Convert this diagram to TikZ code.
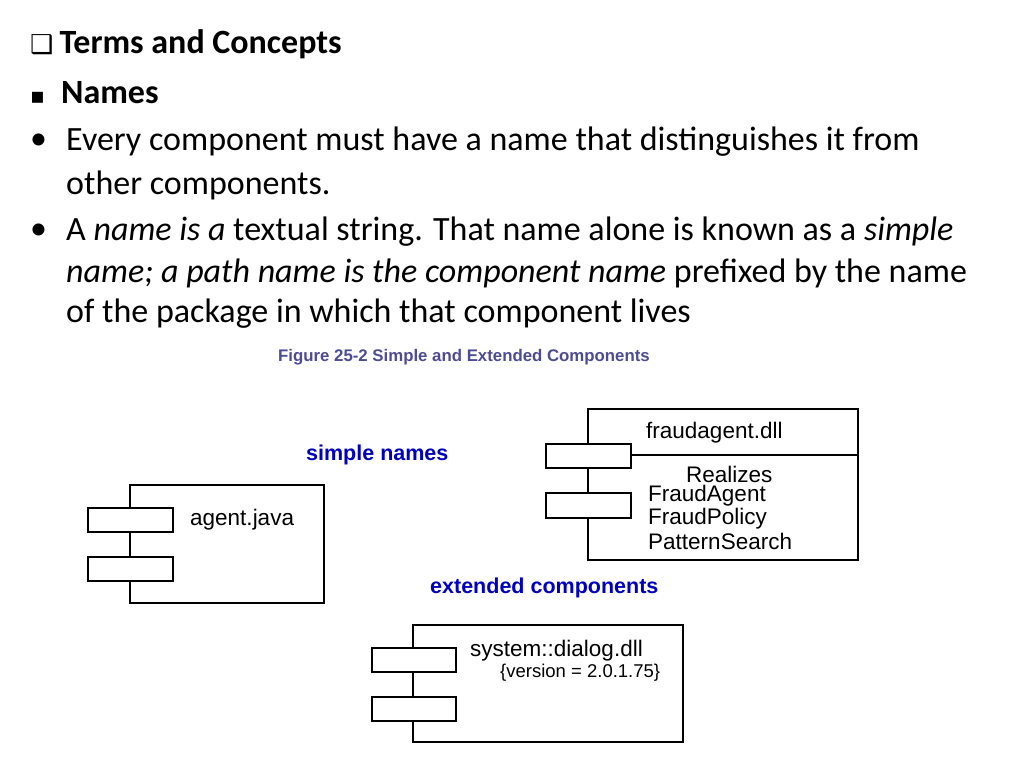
\documentclass[tikz,border=0pt]{standalone}
\usepackage{fontspec}
\setmainfont{Carlito}
\newfontfamily\myDJ{DejaVu Sans}
\newfontfamily\myAR{Liberation Sans}
\begin{document}
\begin{tikzpicture}[x=1pt,y=-1pt,
  body/.style={anchor=west,inner sep=0pt,font=\fontsize{34}{40}\selectfont},
  comp/.style={draw,line width=1.3pt},
  port/.style={draw,line width=1.3pt,fill=white},
  lab/.style={anchor=west,inner sep=0pt,font=\myAR\fontsize{22.5}{26}\selectfont},
  blue/.style={anchor=west,inner sep=0pt,text=blue!75!black,font=\myAR\bfseries\fontsize{21.5}{25}\selectfont}]
\useasboundingbox (0,0) rectangle (1024,768);
\node[body] (b1) at (30,44) {{\myDJ\fontsize{26}{30}\selectfont ❑}\hspace{6pt}\textbf{Terms and Concepts}};
\node[body] (b2) at (30,93) {{\myDJ\fontsize{22}{30}\selectfont ▪}\hspace{16pt}\textbf{Names}};
\node[body] (d1) at (30,142) {•};
\node[body] (t1) at (66,142) {Every component must have a name that distinguishes it from};
\node[body] (t2) at (66,185) {other components.};
\node[body] (d2) at (30,232) {•};
\node[body] (t3) at (66,232) {A \textit{name is a} textual string. That name alone is known as a \textit{simple}};
\node[body] (t4) at (66,273) {\textit{name; a path name is the component name} prefixed by the name};
\node[body] (t5) at (66,314) {of the package in which that component lives};
\node[anchor=west,inner sep=0pt,text=black!60!blue!70,font=\myAR\bfseries\fontsize{16.8}{20}\selectfont] (cap) at (278,357) {Figure 25-2 Simple and Extended Components};
\node[blue] (sn) at (306,455) {simple names};
\node[blue] (ec) at (430,588) {extended components};
% agent.java
\draw[comp] (130,485) rectangle (324,603);
\draw[port] (88,508) rectangle (173,532);
\draw[port] (88,557) rectangle (173,581);
\node[lab] (aj) at (190,520) {agent.java};
% fraudagent
\draw[comp] (588,409) rectangle (858,560);
\draw[comp] (588,455) -- (858,455);
\draw[port] (546,444) rectangle (631,468);
\draw[port] (546,493) rectangle (631,518);
\node[lab] (fa) at (646,433) {fraudagent.dll};
\node[lab] (re) at (686,474) {Realizes};
\node[lab] (f1) at (648,496) {FraudAgent};
\node[lab] (f2) at (648,519) {FraudPolicy};
\node[lab] (f3) at (648,541) {PatternSearch};
% system dialog
\draw[comp] (413,625) rectangle (683,742);
\draw[port] (372,648) rectangle (456,672);
\draw[port] (372,697) rectangle (456,721);
\node[lab] (sd) at (470,651) {system::dialog.dll};
\node[lab,font=\myAR\fontsize{18.5}{21}\selectfont] (vs) at (500,673) {\{version = 2.0.1.75\}};
\end{tikzpicture}
\end{document}
